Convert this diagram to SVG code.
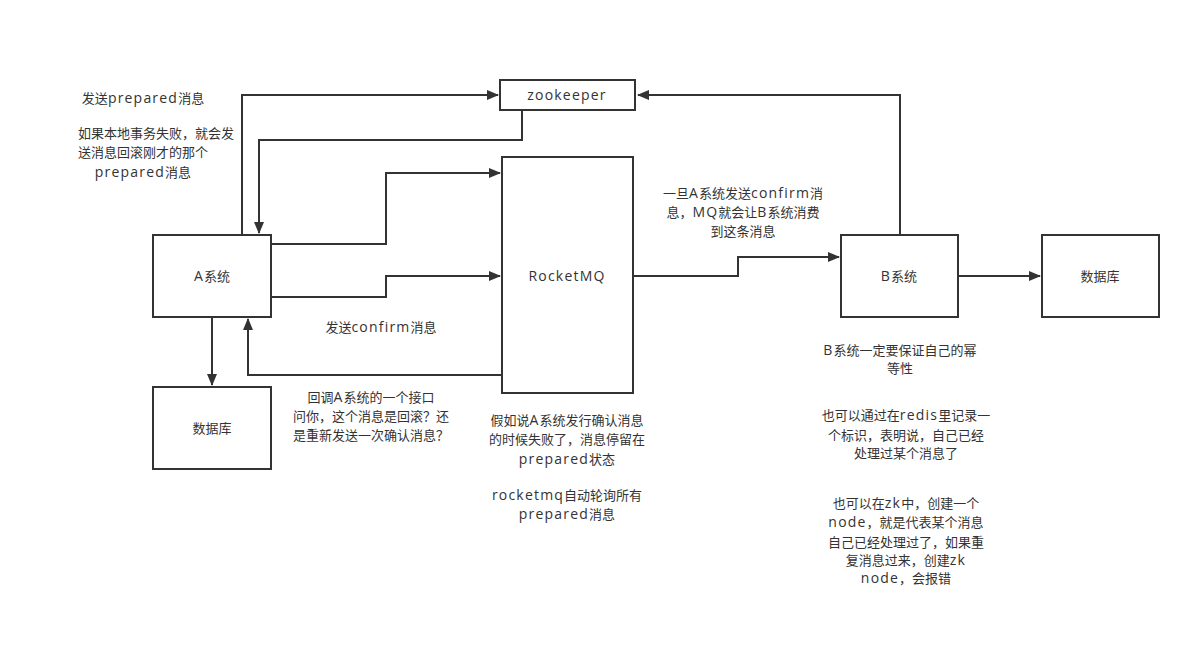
<svg xmlns="http://www.w3.org/2000/svg" width="1193" height="648" viewBox="0 0 1193 648">
<style>
.box{fill:#fff;stroke:#333;stroke-width:2}
.t{font-family:"Open Sans","Noto Sans CJK SC",sans-serif;font-size:13px;fill:#333;text-anchor:middle}
.l{font-size:14px;letter-spacing:1.2px}
.c{fill:none;stroke:#333;stroke-width:2}
</style>
<defs>
<marker id="ah" markerWidth="12" markerHeight="10" refX="11" refY="5" orient="auto" markerUnits="userSpaceOnUse">
<path d="M0,0 L12,5 L0,10 Z" fill="#333"/>
</marker>
</defs>
<rect width="1193" height="648" fill="#fff"/>
<g id="connectors">
<path class="c" d="M242,235 V95 H498" marker-end="url(#ah)"/>
<path class="c" d="M522,111 V140 H259 V233" marker-end="url(#ah)"/>
<path class="c" d="M271,244 H386 V173 H500" marker-end="url(#ah)"/>
<path class="c" d="M271,297 H386 V276 H500" marker-end="url(#ah)"/>
<path class="c" d="M502,375 H248 V319" marker-end="url(#ah)"/>
<path class="c" d="M212,317 V385" marker-end="url(#ah)"/>
<path class="c" d="M633,276 H738 V257 H839" marker-end="url(#ah)"/>
<path class="c" d="M900,235 V95 H638" marker-end="url(#ah)"/>
<path class="c" d="M958,276 H1040" marker-end="url(#ah)"/>
</g>
<g id="zookeeper"><rect class="box" x="500" y="80" width="135" height="30"/><text class="t" x="567" y="100"><tspan class="l">zookeeper</tspan></text></g>
<g id="rocketmq"><rect class="box" x="502" y="157" width="131" height="236"/><text class="t" x="567" y="281"><tspan class="l">RocketMQ</tspan></text></g>
<g id="a"><rect class="box" x="153" y="235" width="118" height="82"/><text class="t" x="212" y="281"><tspan class="l">A</tspan>系统</text></g>
<g id="dba"><rect class="box" x="153" y="387" width="118" height="82"/><text class="t" x="212" y="433">数据库</text></g>
<g id="b"><rect class="box" x="841" y="235" width="117" height="82"/><text class="t" x="899" y="281"><tspan class="l">B</tspan>系统</text></g>
<g id="dbb"><rect class="box" x="1042" y="235" width="117" height="82"/><text class="t" x="1100" y="281">数据库</text></g>
<g id="labels">
<text class="t" x="143" y="103">发送<tspan class="l">prepared</tspan>消息</text>
<text class="t" x="156" y="138">如果本地事务失败，就会发</text>
<text class="t" x="143" y="157">送消息回滚刚才的那个</text>
<text class="t" x="143" y="177"><tspan class="l">prepared</tspan>消息</text>
<text class="t" x="381" y="332">发送<tspan class="l">confirm</tspan>消息</text>
<text class="t" x="371" y="402">回调<tspan class="l">A</tspan>系统的一个接口</text>
<text class="t" x="371" y="421">问你，这个消息是回滚？还</text>
<text class="t" x="371" y="440">是重新发送一次确认消息？</text>
<text class="t" x="743" y="198">一旦<tspan class="l">A</tspan>系统发送<tspan class="l">confirm</tspan>消</text>
<text class="t" x="743" y="217">息，<tspan class="l">MQ</tspan>就会让<tspan class="l">B</tspan>系统消费</text>
<text class="t" x="743" y="236">到这条消息</text>
<text class="t" x="567" y="425">假如说<tspan class="l">A</tspan>系统发行确认消息</text>
<text class="t" x="567" y="444">的时候失败了，消息停留在</text>
<text class="t" x="567" y="464"><tspan class="l">prepared</tspan>状态</text>
<text class="t" x="567" y="500"><tspan class="l">rocketmq</tspan>自动轮询所有</text>
<text class="t" x="567" y="519"><tspan class="l">prepared</tspan>消息</text>
<text class="t" x="900" y="355"><tspan class="l">B</tspan>系统一定要保证自己的幂</text>
<text class="t" x="900" y="373">等性</text>
<text class="t" x="906" y="420">也可以通过在<tspan class="l">redis</tspan>里记录一</text>
<text class="t" x="906" y="440">个标识，表明说，自己已经</text>
<text class="t" x="906" y="458">处理过某个消息了</text>
<text class="t" x="906" y="508">也可以在<tspan class="l">zk</tspan>中，创建一个</text>
<text class="t" x="906" y="527"><tspan class="l">node</tspan>，就是代表某个消息</text>
<text class="t" x="906" y="547">自己已经处理过了，如果重</text>
<text class="t" x="906" y="565">复消息过来，创建<tspan class="l">zk</tspan></text>
<text class="t" x="906" y="583"><tspan class="l">node</tspan>，会报错</text>
</g>
</svg>
